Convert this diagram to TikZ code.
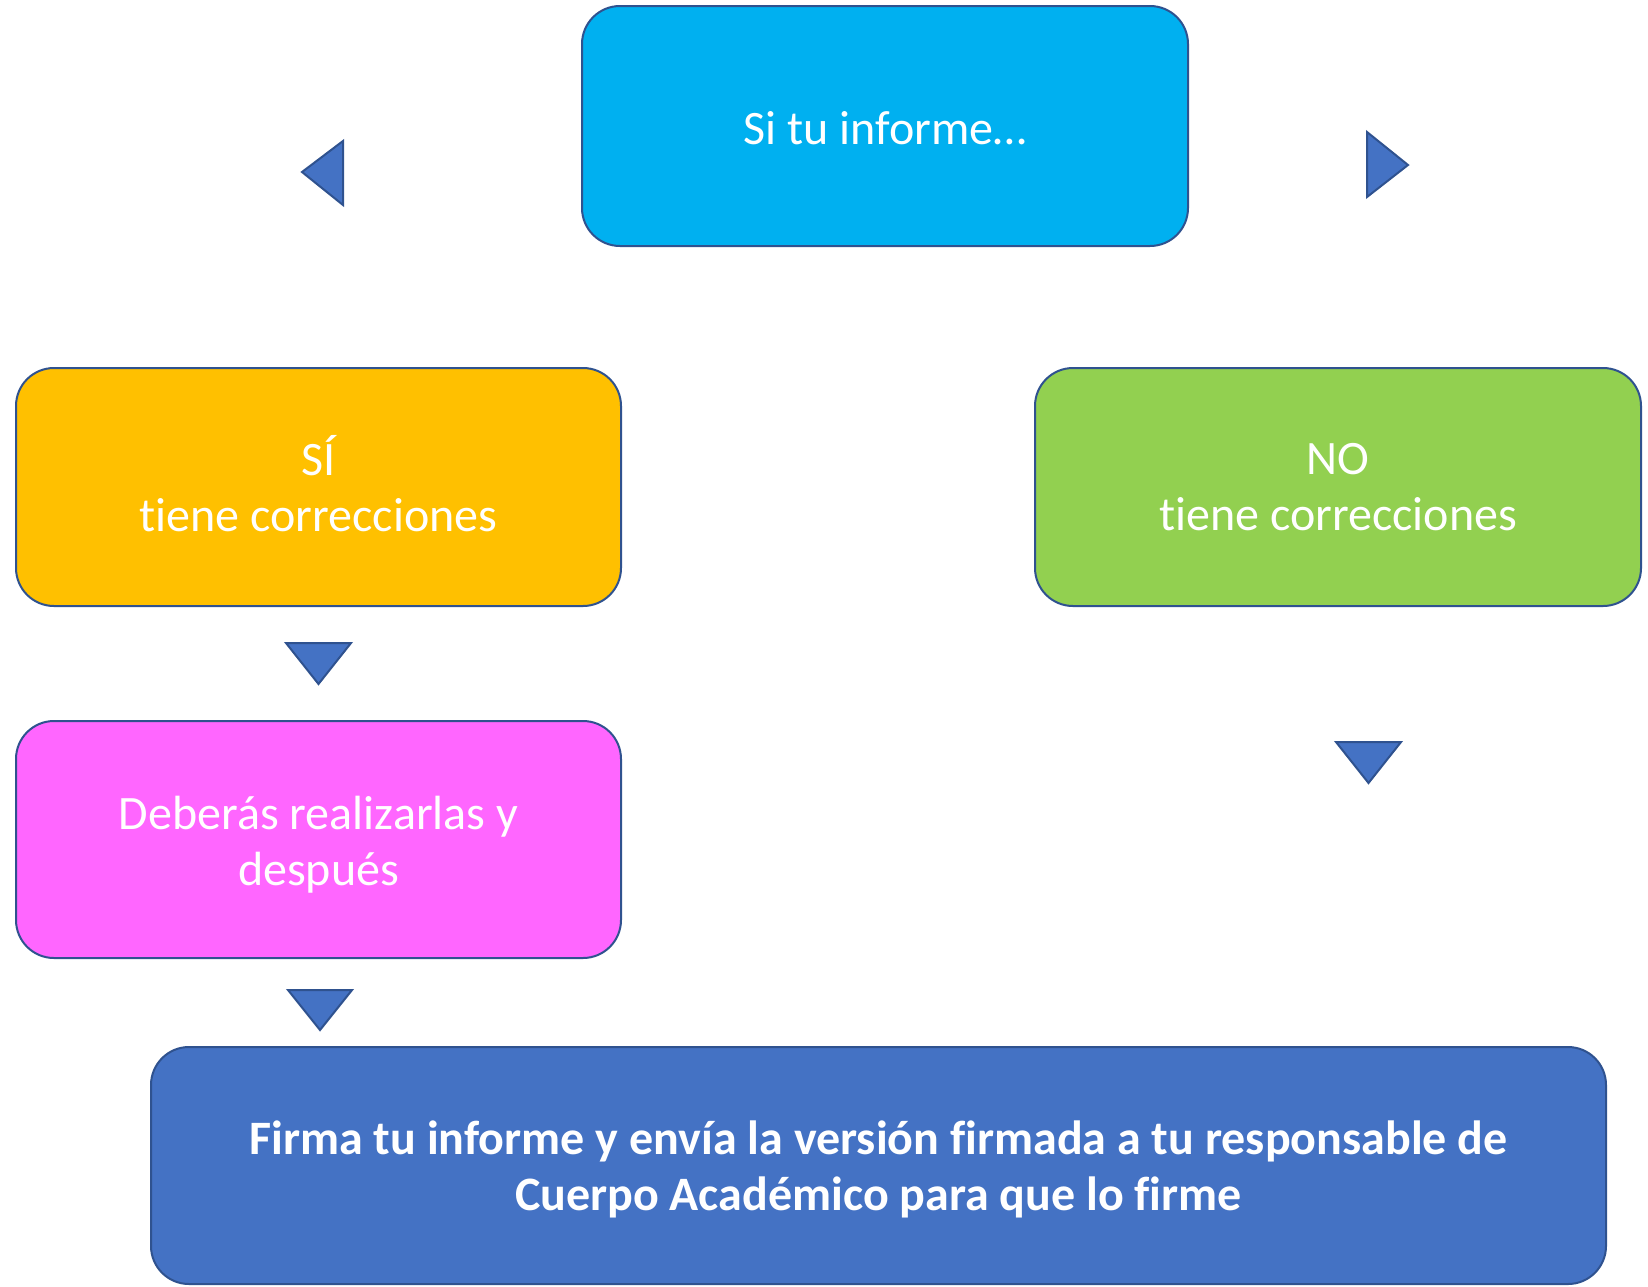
\documentclass[tikz,border=0pt]{standalone}
\usepackage{fontspec}
\setmainfont{Carlito}[Ligatures={NoCommon}]
\definecolor{cTop}{HTML}{00B0F0}
\definecolor{cYes}{HTML}{FFC000}
\definecolor{cNo}{HTML}{92D050}
\definecolor{cPink}{HTML}{FF66FF}
\definecolor{cBlue}{HTML}{4472C4}
\definecolor{cEdge}{HTML}{2F528F}
\tikzset{
  box/.style={draw=cEdge, line width=1pt, rounded corners=19pt, inner sep=0pt},
  lbl/.style={inner sep=0pt, align=center, text=white, font=\fontsize{24}{28}\selectfont},
  tri/.style={draw=cEdge, line width=1pt, fill=cBlue, line join=miter}
}
\begin{document}
\begin{tikzpicture}[x=0.5pt,y=-0.5pt]
\useasboundingbox (0,0) rectangle (1648,1286);
\node[box, fill=cTop, minimum width=303pt, minimum height=120pt] (top) at (885,126) {};
\node[lbl] (topT) at ([yshift=-1pt]top.center) {Si tu informe…};
\node[box, fill=cYes, minimum width=302.5pt, minimum height=119pt] (yes) at (318.5,487) {};
\node[lbl] (yesT) at ([yshift=1.5pt]yes.center) {SÍ\\tiene correcciones};
\node[box, fill=cNo, minimum width=303pt, minimum height=119pt] (no) at (1338,487) {};
\node[lbl] (noT) at (no.center) {NO\\tiene correcciones};
\node[box, fill=cPink, minimum width=302.5pt, minimum height=118.5pt] (fix) at (318.5,839.5) {};
\node[lbl] (fixT) at ([yshift=-2.5pt]fix.center) {Deberás realizarlas y\\después};
\node[box, fill=cBlue, minimum width=727.5pt, minimum height=118.5pt] (sign) at (878.5,1165.5) {};
\node[lbl, font=\fontsize{24}{28}\selectfont\bfseries] (signT) at ([yshift=-1.8pt]sign.center) {Firma tu informe y envía la versión firmada a tu responsable de\\Cuerpo Académico para que lo firme};
% triangles
\draw[tri] (302,172) -- (343,141) -- (343,205) -- cycle;
\draw[tri] (1408,165) -- (1367,132) -- (1367,197) -- cycle;
\draw[tri] (286,643) -- (351,643) -- (318.5,684) -- cycle;
\draw[tri] (1336,742) -- (1401,742) -- (1368.5,783) -- cycle;
\draw[tri] (288,990) -- (352,990) -- (320,1030) -- cycle;
\end{tikzpicture}
\end{document}
